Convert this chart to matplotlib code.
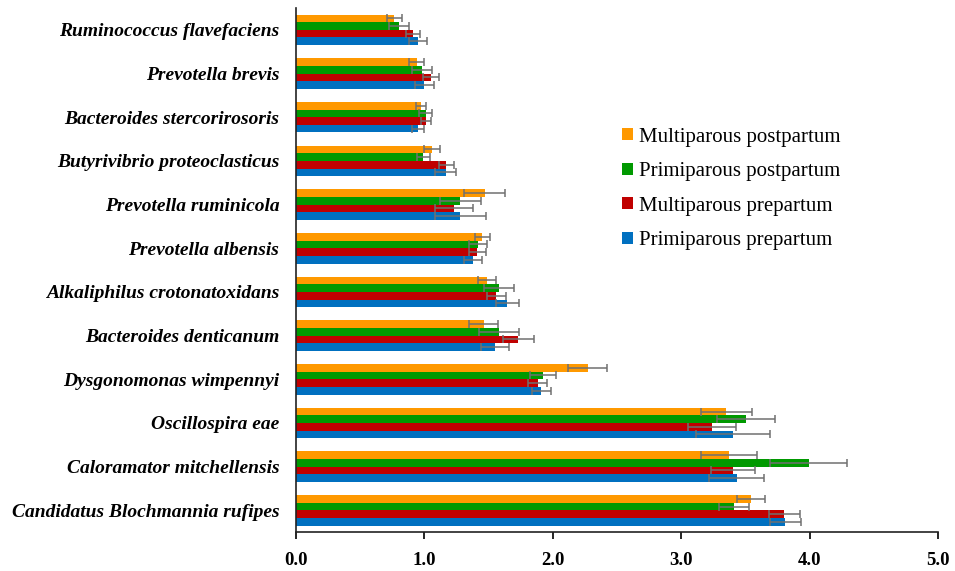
import numpy as np
import matplotlib
matplotlib.use("Agg")
import matplotlib.pyplot as plt

# Taxa listed from the bottom of the chart to the top
taxa = [
    "Candidatus Blochmannia rufipes",
    "Caloramator mitchellensis",
    "Oscillospira eae",
    "Dysgonomonas wimpennyi",
    "Bacteroides denticanum",
    "Alkaliphilus crotonatoxidans",
    "Prevotella albensis",
    "Prevotella ruminicola",
    "Butyrivibrio proteoclasticus",
    "Bacteroides stercorirosoris",
    "Prevotella brevis",
    "Ruminococcus flavefaciens",
]

primi_pre = [3.81, 3.43, 3.40, 1.91, 1.55, 1.645, 1.375, 1.28, 1.165, 0.95, 1.00, 0.95]
primi_pre_err = [0.12, 0.215, 0.29, 0.075, 0.11, 0.09, 0.07, 0.195, 0.08, 0.045, 0.075, 0.07]

multi_pre = [3.80, 3.40, 3.24, 1.88, 1.73, 1.56, 1.41, 1.23, 1.17, 1.01, 1.05, 0.91]
multi_pre_err = [0.12, 0.17, 0.185, 0.075, 0.12, 0.075, 0.065, 0.145, 0.06, 0.04, 0.065, 0.055]

primi_post = [3.41, 3.99, 3.50, 1.92, 1.58, 1.58, 1.42, 1.28, 0.99, 1.01, 0.98, 0.80]
primi_post_err = [0.115, 0.30, 0.225, 0.10, 0.155, 0.115, 0.07, 0.16, 0.05, 0.05, 0.08, 0.08]

multi_post = [3.54, 3.37, 3.35, 2.27, 1.46, 1.49, 1.45, 1.47, 1.06, 0.97, 0.94, 0.765]
multi_post_err = [0.11, 0.215, 0.20, 0.15, 0.11, 0.07, 0.06, 0.16, 0.06, 0.04, 0.06, 0.06]

series = [
    ("Primiparous prepartum", primi_pre, primi_pre_err, "#0070C0"),
    ("Multiparous prepartum", multi_pre, multi_pre_err, "#C00000"),
    ("Primiparous postpartum", primi_post, primi_post_err, "#009900"),
    ("Multiparous postpartum", multi_post, multi_post_err, "#FF9900"),
]

plt.rcParams["font.family"] = ["Liberation Serif", "DejaVu Serif"]

fig = plt.figure(figsize=(9.55, 5.71), dpi=100)
ax = fig.add_axes([0.31, 0.068, 0.6725, 0.918])

y = np.arange(len(taxa))
h = 0.175
offsets = [-1.5 * h, -0.5 * h, 0.5 * h, 1.5 * h]
handles = []
for (name, vals, errs, col), off in zip(series, offsets):
    b = ax.barh(y + off, vals, height=h, color=col, label=name,
                xerr=errs, error_kw=dict(ecolor="#707070", elinewidth=1.1,
                                         capsize=3, capthick=1.1))
    handles.append(b)

ax.set_xlim(0, 5)
ax.set_ylim(-0.5, len(taxa) - 0.5)
ticks = np.arange(0, 5.01, 1.0)
ax.set_xticks(ticks)
ax.set_xticklabels([f"{v:.1f}" for v in ticks], fontsize=13.5, fontweight="bold")
ax.set_yticks(y)
ax.set_yticklabels(taxa, fontsize=14, fontweight="bold", fontstyle="italic")
ax.tick_params(axis="y", length=0, pad=12)
ax.tick_params(axis="x", direction="out", length=5, width=1.2, pad=9)

for s in ("top", "right"):
    ax.spines[s].set_visible(False)
for s in ("left", "bottom"):
    ax.spines[s].set_linewidth(1.2)
    ax.spines[s].set_color("#222222")

ax.legend(handles[::-1], [s[0] for s in series][::-1],
          loc="center left", bbox_to_anchor=(0.508, 0.655),
          frameon=False, fontsize=15, handlelength=0.5,
          handleheight=0.5, handletextpad=0.3, labelspacing=0.74,
          borderpad=0, borderaxespad=0)

fig.savefig("out.png", dpi=100)
